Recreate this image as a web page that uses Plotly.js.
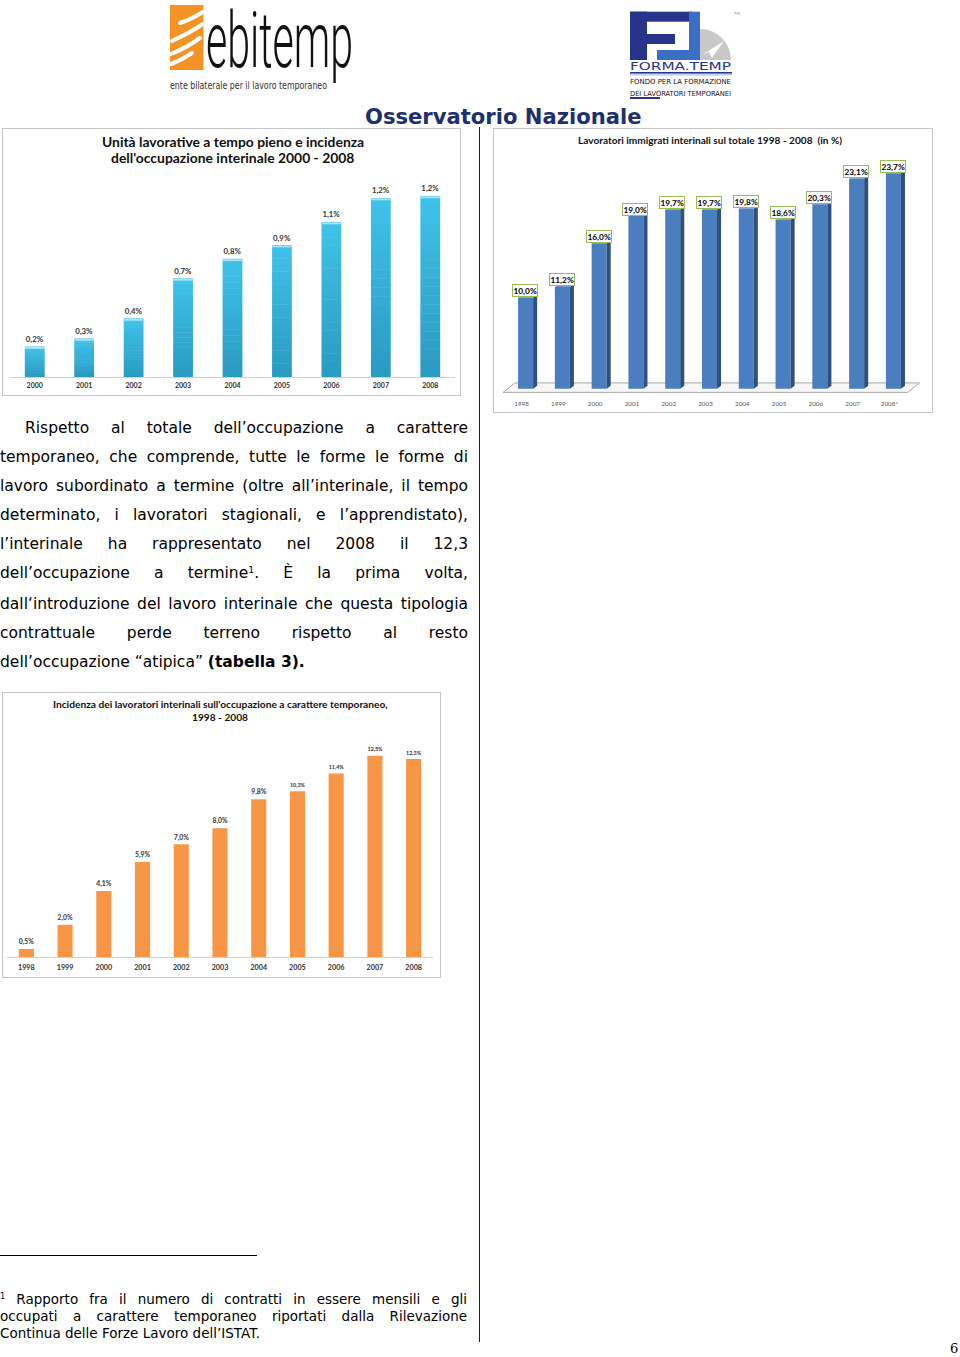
<!DOCTYPE html>
<html><head><meta charset="utf-8">
<script src="https://cdn.plot.ly/plotly-3.0.1.min.js"></script>
<style>
html,body{margin:0;padding:0;background:#fff;}
body{width:960px;height:1357px;position:relative;overflow:hidden;font-family:"DejaVu Sans",Verdana,sans-serif;}
.abs{position:absolute;}
.chart{position:absolute;border:1px solid #c6c6c6;}
.pl{position:absolute;left:0;width:468px;font-size:15.5px;line-height:20px;height:20px;text-align:justify;text-align-last:justify;color:#000;}
.fn{position:absolute;left:0;width:467px;font-size:13.5px;line-height:17px;height:17px;text-align:justify;text-align-last:justify;color:#000;}
sup{font-size:60%;line-height:0;vertical-align:5px;}
</style></head>
<body>
<!-- ebitemp logo -->
<svg class="abs" style="left:160px;top:0px" width="220" height="100" viewBox="0 0 220 100">
  <rect x="10" y="5" width="33.5" height="65" fill="#f39325"/>
  <g stroke="#fff" stroke-width="4" stroke-linecap="round" fill="none">
    <path d="M20 23 Q30 20 43 12"/>
    <path d="M12 41 Q28 34 43 24"/>
    <path d="M11 54 Q26 48 40 38"/>
    <path d="M11 64 Q22 60 32 53"/>
  </g>
  <text x="46" y="67" font-family="Roboto" font-weight="300" font-size="78" textLength="147" lengthAdjust="spacingAndGlyphs" fill="#111">ebitemp</text>
  <text x="10" y="88.5" font-family="DejaVu Sans Condensed, DejaVu Sans" font-size="10" textLength="157" lengthAdjust="spacingAndGlyphs" fill="#333">ente bilaterale per il lavoro temporaneo</text>
</svg>
<!-- formatemp logo -->
<svg class="abs" style="left:620px;top:5px" width="130" height="100" viewBox="0 0 130 100">
  <path d="M80 55 L80 24 A31 31 0 0 1 111 55 Z" fill="#c8c8c8"/>
  <path d="M82 50 L104 36 L92 53 L89 47 Z" fill="#fff"/>
  <rect x="10" y="6.7" width="62" height="10" fill="#27348b"/>
  <rect x="10" y="6.7" width="17" height="48.3" fill="#27348b"/>
  <rect x="10" y="29" width="45" height="10" fill="#27348b"/>
  <rect x="69" y="6.7" width="11" height="48.3" fill="#3b6fc3"/>
  <rect x="37" y="45" width="43" height="10" fill="#3b6fc3"/>
  <text x="10" y="65" font-family="DejaVu Sans" font-size="11" textLength="101" lengthAdjust="spacingAndGlyphs" fill="#27348b">FORMA.TEMP</text>
  <rect x="10" y="67" width="102" height="1.6" fill="#27348b"/>
  <rect x="10" y="69.5" width="102" height="0.8" fill="#7ea2d8"/>
  <text x="10" y="78.5" font-family="DejaVu Sans Condensed, DejaVu Sans" font-size="7" textLength="101" lengthAdjust="spacingAndGlyphs" fill="#111">FONDO PER LA FORMAZIONE</text>
  <text x="10" y="90.5" font-family="DejaVu Sans Condensed, DejaVu Sans" font-size="7" textLength="101" lengthAdjust="spacingAndGlyphs" fill="#111">DEI LAVORATORI TEMPORANEI</text>
  <text x="114" y="10" font-family="DejaVu Sans" font-size="4" fill="#999">TM</text>
</svg>
<div class="abs" style="left:630px;top:97px;width:30px;height:2px;background:#27348b"></div>

<div class="abs" style="left:365px;top:104px;font-family:'DejaVu Sans';font-weight:bold;font-size:21.1px;line-height:26px;color:#1d2f6f;white-space:nowrap">Osservatorio Nazionale</div>

<!-- vertical rule -->
<div class="abs" style="left:479px;top:127px;width:1px;height:1215px;background:#222"></div>

<div id="c1" class="chart" style="left:2px;top:128px;width:457px;height:266px"></div>
<div id="c2" class="chart" style="left:493px;top:128px;width:438px;height:283px"></div>
<div id="c3" class="chart" style="left:2px;top:692px;width:437px;height:284px"></div>

<!-- paragraph -->
<div class="pl" style="top:418px;left:25px;width:443px">Rispetto al totale dell’occupazione a carattere</div>
<div class="pl" style="top:447px">temporaneo, che comprende, tutte le forme le forme di</div>
<div class="pl" style="top:476px">lavoro subordinato a termine (oltre all’interinale, il tempo</div>
<div class="pl" style="top:505px">determinato, i lavoratori stagionali, e l’apprendistato),</div>
<div class="pl" style="top:534px">l’interinale ha rappresentato nel 2008 il 12,3</div>
<div class="pl" style="top:563px">dell’occupazione a termine<sup>1</sup>. È la prima volta,</div>
<div class="pl" style="top:594px">dall‘introduzione del lavoro interinale che questa tipologia</div>
<div class="pl" style="top:623px">contrattuale perde terreno rispetto al resto</div>
<div class="pl" style="top:652px;text-align:left;text-align-last:left">dell’occupazione “atipica” <b>(tabella 3).</b></div>

<!-- footnote -->
<div class="abs" style="left:0;top:1255px;width:257px;height:1px;background:#000"></div>
<div class="fn" style="top:1291px"><sup>1</sup> Rapporto fra il numero di contratti in essere mensili e gli</div>
<div class="fn" style="top:1308px">occupati a carattere temporaneo riportati dalla Rilevazione</div>
<div class="fn" style="top:1325px;text-align:left;text-align-last:left">Continua delle Forze Lavoro dell’ISTAT.</div>

<div class="abs" style="left:950px;top:1341px;font-family:'DejaVu Serif','Liberation Serif',serif;font-size:13px;line-height:16px">6</div>

<script>
// ---- Chart 1 data
const years1 = ['2000','2001','2002','2003','2004','2005','2006','2007','2008'];
const values1 = [0.204,0.259,0.395,0.667,0.80,0.893,1.05,1.213,1.227];
const labels1 = ['0,2%','0,3%','0,4%','0,7%','0,8%','0,9%','1,1%','1,2%','1,2%'];
// ---- Chart 2 data
const years2 = ['1998','1999','2000','2001','2002','2003','2004','2005','2006','2007','2008*'];
const values2 = [10.0,11.2,16.0,19.0,19.7,19.7,19.8,18.6,20.3,23.1,23.7];
const labels2 = ['10,0%','11,2%','16,0%','19,0%','19,7%','19,7%','19,8%','18,6%','20,3%','23,1%','23,7%'];
// ---- Chart 3 data
const years3 = ['1998','1999','2000','2001','2002','2003','2004','2005','2006','2007','2008'];
const values3 = [0.5,2.0,4.1,5.9,7.0,8.0,9.8,10.3,11.4,12.5,12.3];
const labels3 = ['0,5%','2,0%','4,1%','5,9%','7,0%','8,0%','9,8%','10,3%','11,4%','12,5%','12,3%'];

const cfg = {staticPlot:true, displayModeBar:false};
const CAL = 'Lato, "Open Sans", sans-serif';

function titleAnn(lines, ys, size){
  return lines.map((t,k)=>({text:t, xref:'paper', x:0.5, xanchor:'center', yref:'paper', y:ys[k], yanchor:'middle',
    showarrow:false, font:{family:CAL, size:size, color:'#111', weight:'bold'}}));
}

// ===== Chart 1 (vertical gradient built from stacked bands of each bar)
(function(){
  const bands = 20, cap = 0.013;
  const c0 = [42,155,193], c1 = [64,193,233];
  const traces = [];
  for(let k=0;k<bands;k++){
    const f = k/(bands-1);
    const col = 'rgb(' + c0.map((a,j)=>Math.round(a+(c1[j]-a)*f)).join(',') + ')';
    traces.push({type:'bar', x:years1, y:values1.map(v=>v/bands + 0.003), base:values1.map(v=>v*k/bands),
      width:0.40, marker:{color:col, line:{width:0}}, hoverinfo:'none'});
  }
  traces.push({type:'bar', x:years1, y:values1.map(()=>cap), base:values1.map(v=>v-cap), width:0.40,
     marker:{color:'#a6e4f6', line:{width:0}}, hoverinfo:'none'});
  traces.push({type:'bar', x:years1, y:values1, width:0.40, marker:{color:'rgba(0,0,0,0)', line:{width:0}},
     text:labels1, textposition:'outside', cliponaxis:false,
     textfont:{family:CAL, size:7.8, color:'#333', weight:'bold'}, hoverinfo:'none'});
  const ph = 266-32-18.3;
  Plotly.newPlot('c1', traces, {
    width:457, height:266, showlegend:false, barmode:'overlay',
    paper_bgcolor:'#fff', plot_bgcolor:'#fff',
    margin:{l:7, r:4.5, t:32, b:18.3},
    annotations: titleAnn(["Unità lavorative a tempo pieno e incidenza","dell'occupazione interinale 2000 - 2008"],
      [1+(32-12.5)/ph, 1+(32-28.5)/ph], 13.9),
    xaxis:{type:'category', showline:true, linecolor:'#d0d0d0', linewidth:1, ticks:'', showgrid:false,
      tickfont:{family:CAL, size:7, color:'#333', weight:'bold'}, ticklabelstandoff:2},
    yaxis:{range:[0,1.467], visible:false, showgrid:false, zeroline:false}
  }, cfg);
})();

// ===== Chart 2 (3D-look columns)
(function(){
  const idx = values2.map((_,i)=>i);
  const hw = 0.204, dx = 0.11, dy = 0.33;
  const sx=[], sy=[], tx=[], ty=[];
  values2.forEach((v,i)=>{
    const xl=i-hw, xr=i+hw;
    sx.push(xr, xr+dx, xr+dx, xr, xr, null); sy.push(0, dy, v+dy, v, 0, null);
    tx.push(xl, xl+dx, xr+dx, xr, xl, null); ty.push(v, v+dy, v+dy, v, v, null);
  });
  const ann = values2.map((v,i)=>({x:i, y:v, xref:'x', yref:'y', text:labels2[i], showarrow:false,
    yanchor:'bottom', yshift:0.5, xshift:-0.5, bgcolor:'#fff', bordercolor:'#9bbb59', borderwidth:1, borderpad:0.5,
    font:{family:CAL, size:8.3, color:'#000', weight:'bold'}}));
  const ph = 283-36-16.6;
  ann.push(...titleAnn(['Lavoratori immigrati interinali sul totale 1998 - 2008  (in %)'], [1+(36-10.5)/ph], 10.1));
  Plotly.newPlot('c2', [
    {type:'bar', x:idx, y:values2, width:0.408, marker:{color:'#4a7ebf', line:{width:0}}, hoverinfo:'none'},
    {type:'scatter', x:sx, y:sy, mode:'lines', fill:'toself', fillcolor:'#2d507f', line:{width:0}, connectgaps:false, hoverinfo:'none'},
    {type:'scatter', x:tx, y:ty, mode:'lines', fill:'toself', fillcolor:'#6e96cb', line:{width:0}, connectgaps:false, hoverinfo:'none'}
  ], {
    width:438, height:283, showlegend:false,
    paper_bgcolor:'#fff', plot_bgcolor:'#fff',
    margin:{l:4.2, r:10.6, t:36, b:16.6},
    shapes:[{type:'path', xref:'x', yref:'y', layer:'below',
      path:'M -0.611 -0.41 L -0.293 0.63 L 10.71 0.63 L 10.39 -0.41 Z',
      line:{color:'#a6a6a6', width:1}, fillcolor:'#f7f7f7'}],
    annotations:ann,
    xaxis:{range:[-0.75,10.75], tickvals:idx, ticktext:years2, showline:false, ticks:'', showgrid:false, zeroline:false,
      tickfont:{family:CAL, size:6.3, color:'#555'}, ticklabelstandoff:4, ticklabelshift:-4},
    yaxis:{range:[-0.7,24.62], visible:false, showgrid:false, zeroline:false}
  }, cfg);
})();

// ===== Chart 3
(function(){
  const ph = 284-38-20.3;
  Plotly.newPlot('c3', [
    {type:'bar', x:years3, y:values3, width:0.39, marker:{color:'#f79646', line:{width:0}},
     text:labels3, textposition:'outside', cliponaxis:false,
     textfont:{family:CAL, size:7.5, color:'#333', weight:'bold'}, hoverinfo:'none'}
  ], {
    width:437, height:284, showlegend:false,
    paper_bgcolor:'#fff', plot_bgcolor:'#fff',
    margin:{l:4.43, r:6.5, t:38, b:20.3},
    annotations: titleAnn(["Incidenza dei lavoratori interinali sull'occupazione a carattere temporaneo,","1998 - 2008"],
      [1+(38-11.5)/ph, 1+(38-24.5)/ph], 10.2),
    xaxis:{type:'category', showline:true, linecolor:'#d0d0d0', linewidth:1, ticks:'', showgrid:false,
      tickfont:{family:CAL, size:7.2, color:'#333', weight:'bold'}, ticklabelstandoff:3},
    yaxis:{range:[0,14.04], visible:false, showgrid:false, zeroline:false}
  }, cfg);
})();
</script>
</body></html>
